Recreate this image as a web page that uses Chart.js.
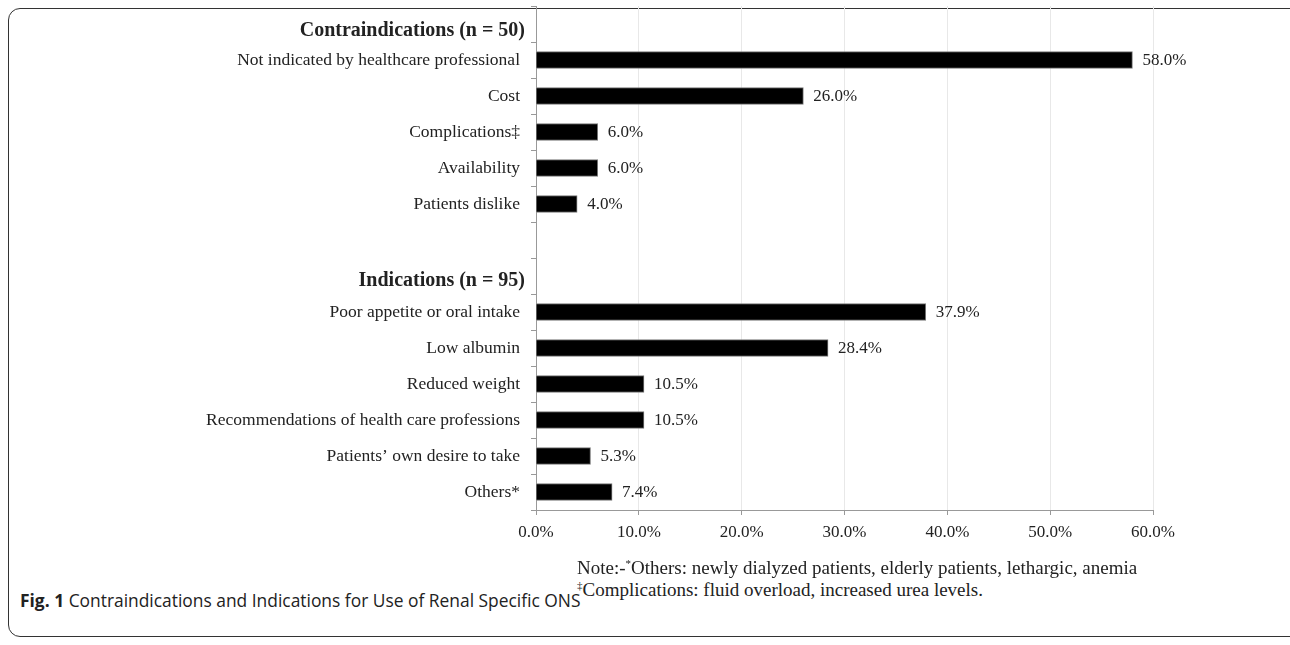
<!DOCTYPE html>
<html>
<head>
<meta charset="utf-8">
<script src="https://cdn.jsdelivr.net/npm/chart.js@4"></script>
<style>
    body { margin: 0; background: #fff; width: 1290px; height: 645px; overflow: hidden; position: relative; }
    #frame { position: absolute; left: 8px; top: 8px; width: 1330px; height: 629px; border: 1.5px solid #333; border-radius: 12px; box-sizing: border-box; }
    #chartCanvas { position: absolute; left: 0; top: 0; }
    .note { position: absolute; left: 577px; font-family: 'Liberation Serif', serif; font-size: 19px; color: #222; white-space: nowrap; }
    .note sup { font-size: 11px; }
    #caption { position: absolute; left: 20px; top: 588px; font-family: 'Open Sans', sans-serif; font-size: 17.4px; color: #222; white-space: nowrap; }
</style>
</head>
<body>
<div id="frame"></div>
<canvas id="chartCanvas" width="1290" height="560"></canvas>
<div class="note" style="top: 557px;">Note:-<sup>*</sup>Others: newly dialyzed patients, elderly patients, lethargic, anemia</div>
<div class="note" style="top: 579px;"><sup>‡</sup>Complications: fluid overload, increased urea levels.</div>
<div id="caption"><b>Fig. 1</b> Contraindications and Indications for Use of Renal Specific ONS</div>
<script>
const categories = [
    'Contraindications (n = 50)',
    'Not indicated by healthcare professional',
    'Cost',
    'Complications‡',
    'Availability',
    'Patients dislike',
    '',
    'Indications (n = 95)',
    'Poor appetite or oral intake',
    'Low albumin',
    'Reduced weight',
    'Recommendations of health care professions',
    'Patients’ own desire to take',
    'Others*'
];
const headerLabels = ['Contraindications (n = 50)', 'Indications (n = 95)'];
const percentValues = [null, 58.0, 26.0, 6.0, 6.0, 4.0, null, null, 37.9, 28.4, 10.5, 10.5, 5.3, 7.4];
const xTicks = [0, 10, 20, 30, 40, 50, 60];

const serif = "'Liberation Serif', 'Times New Roman', serif";

// value labels at the end of each bar, bold group headers next to the axis
const barLabels = {
    id: 'barLabels',
    afterDatasetsDraw(chart) {
        const ctx = chart.ctx;
        const meta = chart.getDatasetMeta(0);
        ctx.save();
        ctx.font = '17px ' + serif;
        ctx.fillStyle = '#222';
        ctx.textBaseline = 'middle';
        meta.data.forEach(function(bar, i) {
            const v = percentValues[i];
            if (v === null) return;
            ctx.fillText(v.toFixed(1) + '%', bar.x + 10, bar.y + 1);
        });

        const yScale = chart.scales.y;
        ctx.font = 'bold 20px ' + serif;
        ctx.textAlign = 'right';
        headerLabels.forEach(function(h, k) {
            const y = yScale.getPixelForValue(categories.indexOf(h));
            ctx.fillText(h, yScale.right - 11, y + (k === 0 ? 7 : 5));
        });
        ctx.restore();
    }
};

new Chart(document.getElementById('chartCanvas').getContext('2d'), {
    type: 'bar',
    data: {
        labels: categories,
        datasets: [{
            data: percentValues,
            backgroundColor: '#000',
            borderColor: '#777',
            borderWidth: 1,
            barThickness: 17
        }]
    },
    options: {
        indexAxis: 'y',
        responsive: false,
        animation: false,
        devicePixelRatio: 1,
        layout: { padding: { left: 0, right: 137, top: 6, bottom: 0 } },
        plugins: {
            legend: { display: false },
            tooltip: { enabled: false }
        },
        scales: {
            x: {
                min: 0,
                max: 60,
                afterBuildTicks: function(scale) {
                    scale.ticks = xTicks.map(function(v) { return { value: v }; });
                },
                afterFit: function(scale) {
                    scale.height = 50;
                    scale.paddingLeft = 0;
                    scale.paddingRight = 0;
                },
                grid: { color: '#e8e8e8', tickColor: '#999', tickLength: 5 },
                border: { color: '#999' },
                ticks: {
                    color: '#222',
                    padding: 7,
                    maxRotation: 0,
                    font: { family: serif, size: 17 },
                    callback: function(v) { return v.toFixed(1) + '%'; }
                }
            },
            y: {
                afterFit: function(scale) {
                    scale.width = 536;
                    scale.paddingTop = 0;
                    scale.paddingBottom = 0;
                },
                grid: { offset: true, drawOnChartArea: false, tickColor: '#999', tickLength: 5 },
                border: { color: '#999' },
                ticks: {
                    color: '#222',
                    padding: 11,
                    autoSkip: false,
                    font: { family: serif, size: 17.5 },
                    callback: function(v, i) {
                        const label = categories[i];
                        return headerLabels.indexOf(label) >= 0 ? '' : label;
                    }
                }
            }
        }
    },
    plugins: [barLabels]
});
</script>
</body>
</html>
